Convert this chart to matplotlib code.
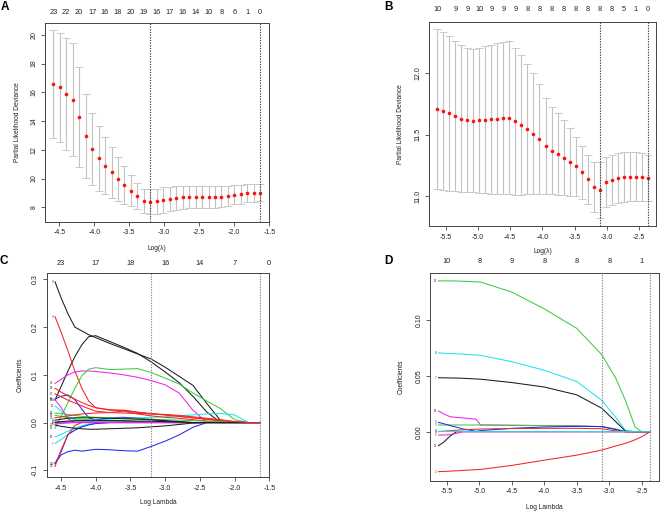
import numpy as np
import matplotlib.pyplot as plt

plt.rcParams['font.family'] = ['Liberation Sans', 'DejaVu Sans']
plt.rcParams['axes.unicode_minus'] = False

# ---------------- data ----------------
# A: cross-validated partial likelihood deviance vs log(lambda)
a_loglam = [-4.586, -4.494, -4.401, -4.309, -4.216, -4.124, -4.032, -3.939, -3.847,
            -3.754, -3.662, -3.570, -3.477, -3.385, -3.292, -3.200, -3.108, -3.015,
            -2.923, -2.830, -2.738, -2.646, -2.553, -2.461, -2.368, -2.276, -2.184,
            -2.091, -1.999, -1.906, -1.814, -1.722, -1.629]
a_cvm = [16.57, 16.34, 15.88, 15.49, 14.29, 12.97, 12.03, 11.40, 10.89, 10.43, 9.97,
         9.56, 9.16, 8.79, 8.45, 8.38, 8.42, 8.51, 8.58, 8.65, 8.70, 8.72, 8.72, 8.70,
         8.70, 8.72, 8.74, 8.79, 8.86, 8.90, 8.97, 8.99, 9.01]
a_cvsd = [3.76, 3.80, 3.88, 3.95, 3.48, 2.90, 2.50, 2.25, 2.00, 1.77, 1.53, 1.30, 1.07,
          0.92, 0.85, 0.87, 0.87, 0.88, 0.85, 0.83, 0.80, 0.78, 0.78, 0.78, 0.78, 0.76,
          0.74, 0.71, 0.66, 0.64, 0.62, 0.61, 0.59]
a_nzero = [23, 22, 20, 17, 16, 18, 20, 19, 16, 17, 16, 14, 10, 8, 6, 1, 0]  # every 2nd lambda
a_lines = [-3.200, -1.629]

# B
b_loglam = [-5.628, -5.535, -5.442, -5.349, -5.256, -5.163, -5.069, -4.976, -4.883,
            -4.790, -4.697, -4.604, -4.511, -4.418, -4.325, -4.232, -4.139, -4.046,
            -3.952, -3.859, -3.766, -3.673, -3.580, -3.487, -3.394, -3.301, -3.208,
            -3.115, -3.022, -2.929, -2.835, -2.742, -2.649, -2.556, -2.463, -2.370]
b_cvm = [11.705, 11.691, 11.673, 11.652, 11.630, 11.617, 11.614, 11.617, 11.620, 11.625,
         11.630, 11.636, 11.636, 11.609, 11.577, 11.545, 11.506, 11.466, 11.407, 11.370,
         11.343, 11.314, 11.279, 11.242, 11.195, 11.139, 11.075, 11.051, 11.117, 11.133,
         11.147, 11.157, 11.160, 11.160, 11.157, 11.147]
b_cvsd = [0.648, 0.636, 0.627, 0.608, 0.593, 0.582, 0.577, 0.587, 0.595, 0.603, 0.609,
          0.614, 0.619, 0.595, 0.567, 0.527, 0.491, 0.446, 0.390, 0.351, 0.330, 0.306,
          0.274, 0.242, 0.215, 0.199, 0.202, 0.230, 0.200, 0.202, 0.204, 0.199, 0.199,
          0.196, 0.191, 0.188]
b_nzero_at = [0, 3, 5, 7, 9, 11, 13, 15, 17, 19, 21, 23, 25, 27, 29, 31, 33, 35]
b_nzero = [10, 9, 9, 10, 9, 9, 9, 8, 8, 8, 8, 8, 8, 8, 8, 5, 1, 0]
b_lines = [-3.115, -2.370]

# C: coefficient paths (values at knots of log lambda)
c_knots = [-4.586, -4.5, -4.4, -4.3, -4.2, -4.1, -4.0, -3.8, -3.6, -3.4, -3.2, -3.0,
           -2.8, -2.6, -2.4, -2.2, -2.0, -1.8, -1.629]
c_paths = [
    [0.295, 0.262, 0.228, 0.200, 0.192, 0.184, 0.178, 0.166, 0.155, 0.144, 0.133, 0.116, 0.097, 0.078, 0.040, 0.004, 0, 0, 0],
    [0.047, 0.075, 0.108, 0.138, 0.163, 0.180, 0.182, 0.170, 0.158, 0.145, 0.127, 0.106, 0.084, 0.055, 0.022, 0, 0, 0, 0],
    [0.222, 0.190, 0.150, 0.108, 0.072, 0.045, 0.031, 0.026, 0.026, 0.022, 0.019, 0.016, 0.013, 0.010, 0.007, 0.003, 0, 0, 0],
    [0.082, 0.090, 0.100, 0.106, 0.108, 0.108, 0.107, 0.104, 0.100, 0.095, 0.088, 0.079, 0.062, 0.026, 0, 0, 0, 0, 0],
    [-0.012, 0.012, 0.042, 0.072, 0.098, 0.112, 0.115, 0.111, 0.112, 0.113, 0.105, 0.093, 0.081, 0.062, 0.045, 0.029, 0.006, 0, 0],
    [0.035, 0.024, 0.012, 0.006, 0.004, 0.004, 0.005, 0.007, 0.009, 0.010, 0.011, 0.012, 0.014, 0.016, 0.018, 0.019, 0.016, 0, 0],
    [-0.030, -0.025, -0.018, -0.012, -0.007, -0.003, -0.001, 0, 0, 0, 0, 0, 0, 0, 0, 0, 0, 0, 0],
    [-0.044, -0.036, -0.025, -0.015, -0.008, -0.004, -0.002, 0, 0, 0, 0, 0, 0, 0, 0, 0, 0, 0, 0],
    [0.049, 0.055, 0.058, 0.048, 0.028, 0.010, 0.005, 0.010, 0.011, 0.009, 0.006, 0.003, 0.001, 0, 0, 0, 0, 0, 0],
    [-0.086, -0.068, -0.061, -0.058, -0.060, -0.058, -0.056, -0.057, -0.059, -0.060, -0.050, -0.039, -0.026, -0.010, 0, 0, 0, 0, 0],
    [-0.086, -0.062, -0.025, -0.016, -0.009, -0.005, -0.002, 0, 0, 0, 0, 0, 0, 0, 0, 0, 0, 0, 0],
    [-0.092, -0.058, -0.026, -0.006, 0, 0, 0, 0, 0, 0, 0, 0, 0, 0, 0, 0, 0, 0, 0],
    [0.072, 0.064, 0.056, 0.049, 0.042, 0.036, 0.031, 0.027, 0.025, 0.021, 0.018, 0.016, 0.013, 0.010, 0.007, 0.004, 0.002, 0, 0],
    [0.060, 0.054, 0.047, 0.041, 0.035, 0.029, 0.024, 0.021, 0.024, 0.018, 0.014, 0.011, 0.009, 0.006, 0.003, 0, 0, 0, 0],
    [0.048, 0.032, 0.008, 0, 0, 0, 0, 0, 0, 0, 0, 0, 0, 0, 0, 0, 0, 0, 0],
    [0.020, 0.019, 0.017, 0.015, 0.013, 0.012, 0.011, 0.010, 0.009, 0.008, 0.007, 0.006, 0.005, 0.004, 0.003, 0.002, 0, 0, 0],
    [0.015, 0.013, 0.010, 0.008, 0.007, 0.006, 0.005, 0.004, 0.003, 0.002, 0.001, 0, 0, 0, 0, 0, 0, 0, 0],
    [-0.005, -0.008, -0.010, -0.012, -0.013, -0.014, -0.014, -0.013, -0.012, -0.011, -0.009, -0.007, -0.004, -0.001, 0, 0, 0, 0, 0],
    [0.005, 0.007, 0.009, 0.010, 0.010, 0.010, 0.010, 0.009, 0.008, 0.007, 0.006, 0.004, 0.002, 0, 0, 0, 0, 0, 0],
    [0.001, 0.001, 0.001, 0.001, 0.001, 0.001, 0.001, 0.001, 0.001, 0.001, 0.001, 0.001, 0, 0, 0, 0, 0, 0, 0],
    [-0.003, -0.002, -0.001, 0, 0, 0, 0, 0, 0, 0, 0, 0, 0, 0, 0, 0, 0, 0, 0],
    [0.000, 0.002, 0.003, 0.004, 0.004, 0.004, 0.004, 0.004, 0.004, 0.003, 0.003, 0.002, 0.001, 0, 0, 0, 0, 0, 0],
    [0.010, 0.012, 0.014, 0.016, 0.018, 0.019, 0.020, 0.021, 0.020, 0.019, 0.018, 0.017, 0.015, 0.012, 0.009, 0.006, 0.002, 0, 0],
]
c_cols = ['k', 'k', 'r', 'm', 'g', 'c', 'c', 'c', 'b', 'b', 'b', 'r', 'r', 'r', 'm', 'g',
          'g', 'k', 'k', 'b', 'm', 'k', 'r']
c_ids = ['9', '8', '3', '15', '13', '11', '10', '7', '16', '21', '2', '22', '18', '17',
         '12', '14', '19', '20', '4', '5', '6', '1', '23']
c_top_at = [-4.5, -4.0, -3.5, -3.0, -2.5, -2.0, -1.5]
c_top = [23, 17, 18, 16, 14, 7, 0]
c_lines = [-3.200, -1.629]

# D
d_knots = [-5.628, -5.55, -5.45, -5.35, -5.25, -5.05, -4.98, -4.5, -4.0, -3.5, -3.115,
           -2.9, -2.75, -2.6, -2.5, -2.37]
d_paths = [
    [0.1350, 0.1350, 0.1350, 0.1349, 0.1347, 0.1342, 0.1340, 0.1250, 0.1100, 0.0925, 0.0690, 0.0480, 0.0280, 0.0040, 0, 0],
    [0.0705, 0.0703, 0.0700, 0.0697, 0.0694, 0.0686, 0.0683, 0.0627, 0.0550, 0.0450, 0.0280, 0.0130, 0.0010, 0, 0, 0],
    [0.0483, 0.0482, 0.0481, 0.0480, 0.0478, 0.0472, 0.0470, 0.0440, 0.0400, 0.0330, 0.0210, 0.0090, 0.0005, 0, 0, 0],
    [-0.0358, -0.0356, -0.0353, -0.0350, -0.0347, -0.0340, -0.0338, -0.0302, -0.0255, -0.0210, -0.0165, -0.0128, -0.0105, -0.0072, -0.0045, 0],
    [0.0185, 0.0160, 0.0134, 0.0128, 0.0123, 0.0112, 0.0060, 0.0057, 0.0054, 0.0050, 0.0045, 0.0020, 0, 0, 0, 0],
    [0.0060, 0.0060, 0.0060, 0.0060, 0.0060, 0.0060, 0.0060, 0.0058, 0.0055, 0.0052, 0.0045, 0.0025, 0, 0, 0, 0],
    [0.0083, 0.0072, 0.0055, 0.0040, 0.0025, 0.0003, 0.0010, 0.0030, 0.0042, 0.0048, 0.0046, 0.0020, 0, 0, 0, 0],
    [-0.0125, -0.0095, -0.0040, 0, 0, 0, 0, 0, 0, 0, 0, 0, 0, 0, 0, 0],
    [-0.0030, -0.0030, -0.0026, -0.0015, 0, 0, 0, 0, 0, 0, 0, 0, 0, 0, 0, 0],
    [0.0000, 0.0004, 0.0009, 0.0013, 0.0017, 0.0022, 0.0024, 0.0028, 0.0030, 0.0030, 0.0026, 0.0008, 0, 0, 0, 0],
    [0.0003, 0.0003, 0.0003, 0.0003, 0.0003, 0.0003, 0.0003, 0.0003, 0.0003, 0.0002, 0.0001, 0, 0, 0, 0, 0],
]
d_cols = ['g', 'c', 'k', 'r', 'm', 'g', 'b', 'k', 'm', 'r', 'c']
d_ids = ['12', '8', '7', '2', '16', '5', '3', '11', '1', '4', '9']
d_top_at = [-5.5, -5.0, -4.5, -4.0, -3.5, -3.0, -2.5]
d_top = [10, 8, 9, 8, 8, 8, 1]
d_lines = [-3.115, -2.370]

palette = {'k': '#1c1c1c', 'r': '#f42424', 'g': '#3ccb3c', 'b': '#2626ee',
           'c': '#1ee4ee', 'm': '#ee22ee'}

# ---------------- layout (pixels) ----------------
W, H = 661, 511
fig = plt.figure(figsize=(W / 100, H / 100), dpi=100)
AX = '#444444'


def r_range(lo, hi):
    d = 0.04 * (hi - lo)
    return lo - d, hi + d


def panel(box, xlim, ylim, xt, yt, ylabs):
    l, t, r, b = box
    ax = fig.add_axes([l / W, 1 - b / H, (r - l) / W, (b - t) / H])
    ax.set_xlim(xlim)
    ax.set_ylim(ylim)
    for s in ax.spines.values():
        s.set_linewidth(0.7)
        s.set_color(AX)
    ax.set_xticks(xt, ['%.1f' % v for v in xt])
    ax.set_yticks(yt, ylabs)
    ax.tick_params(length=3, width=0.6, color=AX, labelsize=5, pad=2.5, labelcolor='#222222')
    for lab in ax.get_yticklabels():
        lab.set_rotation(90)
        lab.set_va('center')
    return ax


def labels(ax, box, xlab, ylab, xl_y, yl_x):
    l, t, r, b = box
    ax.set_xlabel(xlab, fontsize=4.8, color='#222222')
    ax.xaxis.set_label_coords(0.5, -(xl_y - b) / (b - t))
    ax.xaxis.label.set_va('center')
    ax.set_ylabel(ylab, fontsize=4.8, color='#222222')
    ax.yaxis.set_label_coords(-(l - yl_x) / (r - l), 0.5)
    ax.yaxis.label.set_va('center')


def top_counts(ax, pos, labs, pad):
    sec = ax.secondary_xaxis('top')
    sec.set_xticks(pos, [str(v) for v in labs])
    sec.tick_params(length=0, labelsize=5.3, pad=pad, labelcolor='#222222')
    sec.spines['top'].set_visible(False)


def cv_panel(ax, x, m, s, vlines):
    ax.errorbar(x, m, yerr=s, fmt='none', ecolor='#c2c2c2', elinewidth=0.8,
                capsize=3, capthick=0.6)
    ax.plot(x, m, 'o', color='#ff1010', ms=2.6, mec='none')
    for v in vlines:
        ax.axvline(v, color='#444444', lw=0.8, ls=(0, (1.2, 1.2)))


def coef_panel(ax, knots, paths, cols, ids, vlines):
    for vals, c, lab in zip(paths, cols, ids):
        ax.plot(knots, vals, color=palette[c], lw=0.75)
        ax.annotate(lab, (knots[0], vals[0]), xytext=(-1.2, 0), textcoords='offset points',
                    ha='right', va='center', fontsize=2.2, color='#333333')
    for v in vlines:
        ax.axvline(v, color='#888888', lw=0.8, ls=(0, (1.2, 1.2)))


xt_ac = [-4.5, -4.0, -3.5, -3.0, -2.5, -2.0, -1.5]
xt_bd = [-5.5, -5.0, -4.5, -4.0, -3.5, -3.0, -2.5]

# A
box_a = (45, 22.7, 269.3, 221.7)
lo = np.array(a_cvm) - np.array(a_cvsd)
hi = np.array(a_cvm) + np.array(a_cvsd)
ax = panel(box_a, r_range(min(a_loglam), max(a_loglam)), r_range(lo.min(), hi.max()),
           xt_ac, [8, 10, 12, 14, 16, 18, 20], ['8', '10', '12', '14', '16', '18', '20'])
cv_panel(ax, a_loglam, a_cvm, a_cvsd, a_lines)
top_counts(ax, a_loglam[::2], a_nzero, 5)
labels(ax, box_a, 'Log(λ)', 'Partial Likelihood Deviance', 248, 18)

# B
box_b = (429, 21.7, 656, 226)
lo = np.array(b_cvm) - np.array(b_cvsd)
hi = np.array(b_cvm) + np.array(b_cvsd)
ax = panel(box_b, r_range(min(b_loglam), max(b_loglam)), r_range(lo.min(), hi.max()),
           xt_bd, [11.0, 11.5, 12.0], ['11.0', '11.5', '12.0'])
cv_panel(ax, b_loglam, b_cvm, b_cvsd, b_lines)
top_counts(ax, [b_loglam[i] for i in b_nzero_at], b_nzero, 6)
labels(ax, box_b, 'Log(λ)', 'Partial Likelihood Deviance', 251.7, 400)

# C
box_c = (46.8, 273, 269.3, 477)
ax = panel(box_c, r_range(min(c_knots), max(c_knots)), (-0.1141, 0.3134),
           xt_ac, [-0.1, 0.0, 0.1, 0.2, 0.3], ['-0.1', '0.0', '0.1', '0.2', '0.3'])
coef_panel(ax, c_knots, c_paths, c_cols, c_ids, c_lines)
top_counts(ax, c_top_at, c_top, 4)
labels(ax, box_c, 'Log Lambda', 'Coefficients', 502, 20)

# D
box_d = (430, 273.3, 658.6, 480.5)
ax = panel(box_d, r_range(min(d_knots), max(d_knots)), (-0.0437, 0.1418),
           xt_bd, [0.0, 0.05, 0.10], ['0.00', '0.05', '0.10'])
coef_panel(ax, d_knots, d_paths, d_cols, d_ids, d_lines)
top_counts(ax, d_top_at, d_top, 6)
labels(ax, box_d, 'Log Lambda', 'Coefficients', 507, 401)

for letter, x, y in [('A', 4.5, 6.5), ('B', 388.7, 6.5), ('C', 4, 261.5), ('D', 388.5, 261.5)]:
    fig.text(x / W, 1 - y / H, letter, fontsize=8.5, fontweight='bold', ha='center', va='center')

fig.savefig('out.png', dpi=100)
